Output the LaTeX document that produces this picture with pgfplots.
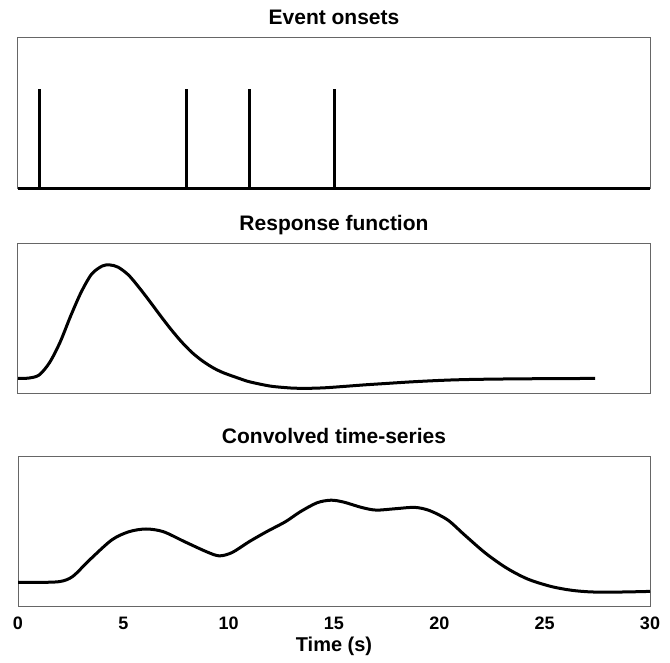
\documentclass[border=0pt]{standalone}
\usepackage{fontspec}
\setmainfont{Liberation Sans}
\usepackage{pgfplots}
\pgfplotsset{compat=1.18}

\pgfplotsset{
  panel/.style={
    scale only axis,
    width=316pt,
    xmin=0, xmax=30,
    axis line style={draw=gray!80!black, line width=0.5pt},
    xtick=\empty, ytick=\empty,
    title style={font=\bfseries\fontsize{10.5}{12}\selectfont,
      at={(0.5,1)}, anchor=base, yshift=0.5pt},
    anchor=south west,
  },
}

\begin{document}
\begin{tikzpicture}
\path (0,0) rectangle (335pt,330pt);

% panel 1: event onsets
\begin{axis}[panel, at={(9pt,235.5pt)}, height=75.5pt,
  ymin=0, ymax=1.51, title={Event onsets}, clip=false]
\addplot[black, line width=1.5pt] coordinates {(0,0) (30,0)};
\addplot[ycomb, black, line width=1.5pt, mark=none] coordinates {
  (1,1) (8,1) (11,1) (15,1)
};
\end{axis}

% panel 2: response function
\begin{axis}[panel, at={(9pt,133pt)}, height=75pt,
  ymin=-0.137, ymax=1.184, title={Response function}]
\addplot[black, line width=1.5pt, smooth] coordinates {
  (0,0) (0.5,0.003) (1.0,0.03) (1.5,0.14) (2.0,0.32) (2.5,0.55)
  (3.0,0.76) (3.5,0.92) (4.0,0.99) (4.35,1.0) (4.75,0.98) (5.25,0.91)
  (5.75,0.80) (6.25,0.68) (6.75,0.555) (7.25,0.435) (7.75,0.325)
  (8.25,0.23) (8.75,0.155) (9.25,0.095) (9.75,0.05) (10.5,0.0)
  (11.0,-0.03) (12.0,-0.068) (13.0,-0.085) (13.5,-0.088) (14.5,-0.083)
  (15.5,-0.07) (16.5,-0.056) (17.5,-0.044) (18.5,-0.032) (19.5,-0.022)
  (20.5,-0.014) (21.5,-0.009) (23,-0.005) (25,-0.002) (27.4,0)
};
\end{axis}

% panel 3: convolved time-series
\begin{axis}[panel, at={(9pt,26.5pt)}, height=75pt,
  ymin=0, ymax=1, title={Convolved time-series},
  xtick={0,5,...,30}, major tick length=0pt,
  xticklabel style={font=\bfseries\fontsize{9}{10}\selectfont,
    anchor=base, yshift=-11.5pt},
  /pgf/number format/assume math mode=true,
  xlabel={Time (s)},
  xlabel style={font=\bfseries\fontsize{10}{12}\selectfont,
    at={(axis description cs:0.5,0)}, anchor=base, yshift=-22.5pt},
]
\addplot[black, line width=1.5pt, smooth] coordinates {
  (0,0.164) (1.0,0.164) (2.0,0.170) (2.6,0.204) (3.4,0.314) (4.45,0.447)
  (5.27,0.502) (6.08,0.520) (6.9,0.502) (7.9,0.436) (8.94,0.369)
  (9.55,0.341) (10.16,0.363) (10.98,0.436) (11.8,0.502) (12.7,0.569)
  (13.4,0.635) (14.2,0.695) (14.86,0.712) (15.47,0.699) (16.3,0.664)
  (17.0,0.646) (17.9,0.655) (18.84,0.664) (19.55,0.642) (20.4,0.580)
  (21.2,0.480) (22.2,0.358) (23.2,0.259) (24.2,0.186) (25.3,0.137)
  (26.3,0.111) (27.3,0.100) (28.7,0.100) (30,0.104)
};
\end{axis}
\end{tikzpicture}
\end{document}
